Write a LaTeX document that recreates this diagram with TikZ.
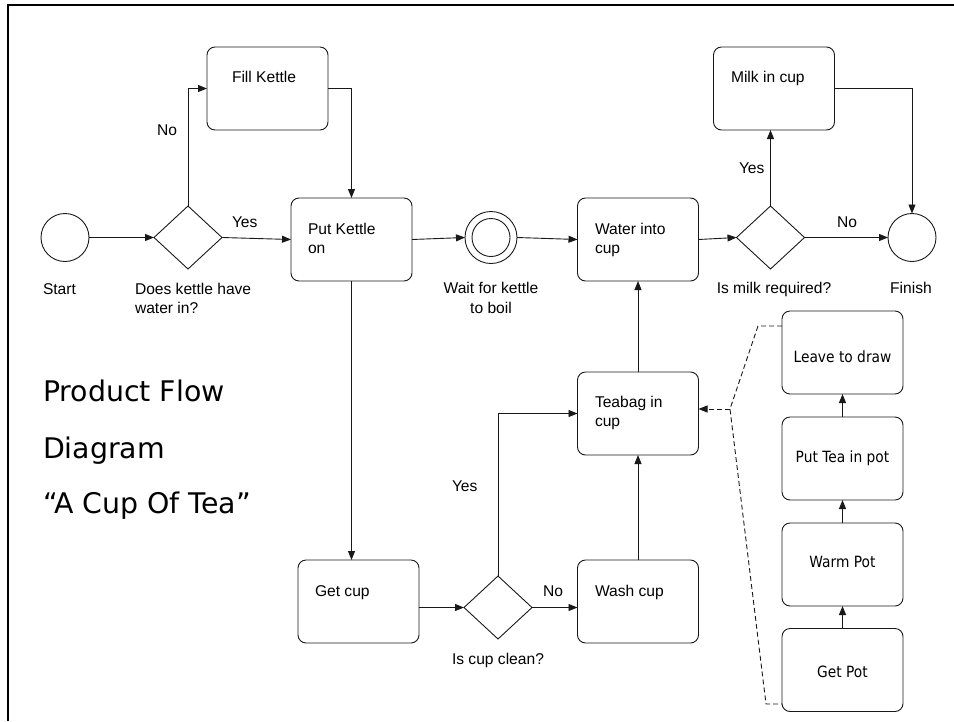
\documentclass[tikz,border=0pt]{standalone}
\usepackage{fontspec}
\setmainfont{Liberation Sans}
\newfontfamily\titlefont{DejaVu Sans}
\newfontfamily\potfont[FakeStretch=0.89]{DejaVu Sans}
\usetikzlibrary{shapes.geometric,arrows.meta}

\begin{document}
\begin{tikzpicture}[x=1pt,y=-1pt,
  every node/.style={inner sep=0pt, outer sep=0pt},
  txt/.style={font=\fontsize{15.6}{19}\selectfont, anchor=base west},
  ctxt/.style={font=\fontsize{15.6}{19}\selectfont, anchor=base},
  pottxt/.style={font=\potfont\fontsize{15.5}{19}\selectfont, anchor=base},
  ttl/.style={font=\titlefont\fontsize{28.4}{32}\selectfont, anchor=base west},
  task/.style={draw=black!90, line width=0.9pt, rounded corners=8pt,
    minimum width=121pt, minimum height=83pt},
  gate/.style={draw=black!90, line width=0.9pt, diamond,
    minimum width=68pt, minimum height=63pt},
  event/.style={draw=black!90, line width=0.9pt, circle, minimum size=48pt},
  tip/.style={-{Triangle[length=9pt,width=7pt]}},
  flow/.style={draw=black!90, line width=0.9pt, tip},
  assoc/.style={draw=black!90, line width=0.9pt, dash pattern=on 5pt off 3pt}
]
\useasboundingbox (0,0) rectangle (954,721);

% page frame
\draw[line width=2pt] (8,721) -- (8,5) -- (954,5);

% events and gateways
\node[event] (start) at (65,237.5) {};
\node[gate] (g1) at (188,237.5) {};
\node[event, minimum size=52pt] (wait) at (491,237.5) {};
\draw[black!90, line width=0.9pt] (wait.center) circle[radius=19pt];
\node[gate] (g2) at (770.5,237.5) {};
\node[event] (finish) at (912,237.5) {};
\node[gate] (g3) at (498,607.5) {};

% tasks
\node[task] (fill) at (267.5,88.5) {};
\node[task] (put) at (351.5,239.5) {};
\node[task] (water) at (638,239.5) {};
\node[task] (milk) at (774,88.5) {};
\node[task] (teabag) at (638,413.5) {};
\node[task] (getcup) at (358.5,601.5) {};
\node[task] (wash) at (638,601.5) {};
\node[task] (leave) at (842.5,352.5) {};
\node[task] (puttea) at (842.5,458.5) {};
\node[task] (warm) at (842.5,564.5) {};
\node[task] (getpot) at (842.5,670) {};

% task texts
\node[txt] (fillT) at (232,82) {Fill Kettle};
\node[txt] (putT1) at (308,234) {Put Kettle};
\node[txt] (putT2) at (308,253) {on};
\node[txt] (waterT1) at (595,234) {Water into};
\node[txt] (waterT2) at (595,253) {cup};
\node[txt] (milkT) at (731,82) {Milk in cup};
\node[txt] (teabagT1) at (595,407) {Teabag in};
\node[txt] (teabagT2) at (595,426) {cup};
\node[txt] (getcupT) at (315,596) {Get cup};
\node[txt] (washT) at (595,596) {Wash cup};
\node[pottxt] (leaveT) at (842.5,362) {Leave to draw};
\node[pottxt] (putteaT) at (842.5,462) {Put Tea in pot};
\node[pottxt] (warmT) at (842.5,567) {Warm Pot};
\node[pottxt] (getpotT) at (842.5,677) {Get Pot};

% event and gateway captions
\node[txt] (startT) at (43,294) {Start};
\node[txt] (g1T1) at (135,294) {Does kettle have};
\node[txt] (g1T2) at (135,313) {water in?};
\node[ctxt] (waitT1) at (491,293) {Wait for kettle};
\node[ctxt] (waitT2) at (491,313) {to boil};
\node[ctxt] (g2T) at (774,293) {Is milk required?};
\node[ctxt] (finishT) at (911,293) {Finish};
\node[ctxt] (g3T) at (498,664) {Is cup clean?};

% branch labels
\node[txt] (noA) at (157,135) {No};
\node[txt] (yesA) at (232,227) {Yes};
\node[txt] (yesB) at (739,173) {Yes};
\node[txt] (noB) at (837,227) {No};
\node[txt] (yesC) at (452,491) {Yes};
\node[txt] (noC) at (543,596) {No};

% title
\node[ttl] (title1) at (43,401) {Product Flow};
\node[ttl] (title2) at (43,458) {Diagram};
\node[ttl] (title3) at (43,513) {“A Cup Of Tea”};

% sequence flows
\draw[flow] (start.east) -- (g1.west);
\draw[flow] (g1.north) |- (fill.west);
\draw[flow] (g1.east) -- (put.west);
\draw[flow] (fill.east) -| (put.north);
\draw[flow] (put.east) -- (wait.west);
\draw[flow] (wait.east) -- (water.west);
\draw[flow] (water.east) -- (g2.west);
\draw[flow] (g2.north) -- (g2.north |- milk.south);
\draw[flow] (g2.east) -- (finish.west);
\draw[flow] (milk.east) -| (finish.north);
\draw[flow] (put.south) -- (put.south |- getcup.north);
\draw[flow] (getcup.east |- g3.west) -- (g3.west);
\draw[flow] (g3.east) -- (wash.west |- g3.east);
\draw[flow] (g3.north) |- (teabag.west);
\draw[flow] (wash.north) -- (teabag.south);
\draw[flow] (teabag.north) -- (water.south);
\draw[flow] (getpot.north) -- (warm.south);
\draw[flow] (warm.north) -- (puttea.south);
\draw[flow] (puttea.north) -- (leave.south);

% association bracket grouping the pot tasks
\coordinate (b1) at (758,326);
\coordinate (b2) at (730,409);
\coordinate (b3) at (766,704);
\draw[assoc] (leave.west |- b1) -- (b1) -- (b2) -- (b3) -- (getpot.west |- b3);
\draw[assoc, tip] (b2) -- (teabag.east |- b2);
\end{tikzpicture}
\end{document}
